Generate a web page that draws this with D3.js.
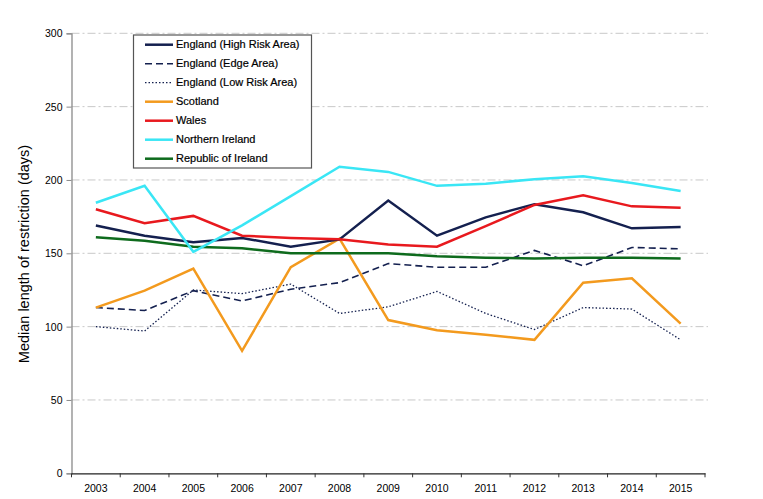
<!DOCTYPE html>
<html>
<head>
<meta charset="utf-8">
<script src="https://cdn.jsdelivr.net/npm/d3@7"></script>
<style>
  html, body { margin: 0; padding: 0; background: #fff; }
  svg { display: block; font-family: "Liberation Sans", Arial, sans-serif; }
</style>
</head>
<body>
<svg id="chart" width="763" height="499"></svg>
<script>
const years = ["2003","2004","2005","2006","2007","2008","2009","2010","2011","2012","2013","2014","2015"];
const yTicks = [0, 50, 100, 150, 200, 250, 300];

const englandHigh = [169, 162, 157.5, 160.5, 154.5, 159.5, 186, 162, 174.5, 183.5, 178, 167, 168];
const englandEdge = [113, 111, 124.5, 117.5, 125.5, 130, 143, 140.5, 140.5, 152, 141.5, 154, 153];
const englandLow  = [100, 97, 125, 122.5, 129, 109, 113.5, 124, 109, 98, 113, 112, 91];
const scotland    = [113, 124.5, 139.5, 83.5, 140.5, 160, 104.5, 97.5, 94.5, 91, 130, 133, 102];
const wales       = [180, 170.5, 175.5, 162, 160.5, 159.5, 156, 154.5, 168.5, 183, 189.5, 182, 181];
const nIreland    = [184.5, 196, 151, 169, 189, 209, 205.5, 196, 197.5, 200.5, 202.5, 198, 192.5];
const roi         = [161, 158.5, 154.5, 153.5, 150, 150, 150, 148, 147, 146.5, 147, 147, 146.5];

const seriesNames = ["England (High Risk Area)", "England (Edge Area)", "England (Low Risk Area)",
                     "Scotland", "Wales", "Northern Ireland", "Republic of Ireland"];
const seriesValues = [englandHigh, englandEdge, englandLow, scotland, wales, nIreland, roi];
const seriesColors = ["#14204f", "#14204f", "#14204f", "#f39a1e", "#e8191e", "#3ae6f5", "#0e6b1d"];
const seriesDash = [null, "7,4", "1.5,2", null, null, null, null];
const seriesWidth = [2.5, 1.6, 1.3, 2.5, 2.5, 2.5, 2.5];

const svg = d3.select("#chart");
const margin = {left: 71.5, right: 705, top: 33.3, bottom: 473.3};

const x = d3.scaleBand().domain(years).range([margin.left, margin.right]);
const y = d3.scaleLinear().domain([0, 300]).range([margin.bottom, margin.top]);

// gridlines
svg.append("g").selectAll("line")
  .data(yTicks.filter(d => d > 0))
  .join("line")
  .attr("x1", margin.left).attr("x2", 708)
  .attr("y1", d => y(d)).attr("y2", d => y(d))
  .attr("stroke", "#c8c8c8").attr("stroke-width", 1)
  .attr("stroke-dasharray", "8,3,2,3");

// y axis
const yAxis = svg.append("g")
  .attr("transform", `translate(${margin.left},0)`)
  .call(d3.axisLeft(y).tickValues(yTicks).tickSize(5).tickPadding(4));
yAxis.select(".domain").attr("stroke", "#8a8a8a").attr("stroke-width", 1.3);
yAxis.selectAll(".tick line").attr("stroke", "#8a8a8a");
yAxis.selectAll("text").attr("font-size", 10.5).attr("fill", "#000")
  .attr("font-family", "Liberation Sans, Arial, sans-serif");

// x axis
const xAxis = svg.append("g")
  .attr("transform", `translate(0,${margin.bottom})`)
  .call(d3.axisBottom(x).tickSize(0).tickPadding(11));
xAxis.select(".domain").attr("stroke", "#222").attr("stroke-width", 1.2);
xAxis.selectAll("text").attr("font-size", 10.5).attr("fill", "#000")
  .attr("font-family", "Liberation Sans, Arial, sans-serif");
// category separator ticks
svg.append("g").selectAll("line")
  .data(years.concat(["end"]))
  .join("line")
  .attr("x1", (d, i) => i < years.length ? x(d) : x(years[years.length - 1]) + x.bandwidth())
  .attr("x2", (d, i) => i < years.length ? x(d) : x(years[years.length - 1]) + x.bandwidth())
  .attr("y1", margin.bottom).attr("y2", margin.bottom + 4)
  .attr("stroke", "#333").attr("stroke-width", 1);

// y axis title
svg.append("text")
  .attr("transform", `translate(25.5,254) rotate(-90)`)
  .attr("text-anchor", "middle")
  .attr("dominant-baseline", "middle")
  .attr("font-size", 14.5)
  .attr("fill", "#000")
  .text("Median length of restriction (days)");

// lines
const line = d3.line()
  .x((d, i) => x(years[i]) + x.bandwidth() / 2)
  .y(d => y(d));

const drawOrder = [2, 1, 3, 0, 6, 4, 5];
svg.append("g").selectAll("path")
  .data(drawOrder)
  .join("path")
  .attr("d", k => line(seriesValues[k]))
  .attr("fill", "none")
  .attr("stroke", k => seriesColors[k])
  .attr("stroke-width", k => seriesWidth[k])
  .attr("stroke-dasharray", k => seriesDash[k])
  .attr("stroke-linejoin", "miter");

// legend
const lg = svg.append("g");
lg.append("rect")
  .attr("x", 133.5).attr("y", 35).attr("width", 178).attr("height", 133)
  .attr("fill", "#fff").attr("stroke", "#555").attr("stroke-width", 1.2);
const rows = lg.selectAll("g.row")
  .data(seriesNames)
  .join("g").attr("class", "row")
  .attr("transform", (d, i) => `translate(0,${44.7 + i * 19})`);
rows.append("line")
  .attr("x1", 145).attr("x2", 173)
  .attr("y1", 0).attr("y2", 0)
  .attr("stroke", (d, i) => seriesColors[i])
  .attr("stroke-width", (d, i) => seriesWidth[i])
  .attr("stroke-dasharray", (d, i) => seriesDash[i]);
rows.append("text")
  .attr("x", 176).attr("y", 0)
  .attr("dominant-baseline", "middle")
  .attr("font-size", 11)
  .attr("fill", "#000")
  .attr("stroke", "#000").attr("stroke-width", 0.2)
  .text(d => d);
</script>
</body>
</html>
